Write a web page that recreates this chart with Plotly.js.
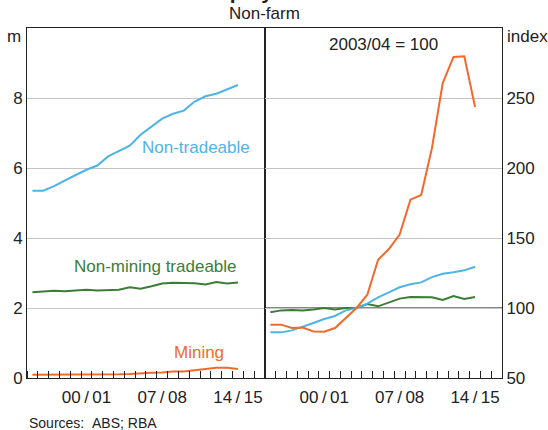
<!DOCTYPE html>
<html>
<head>
<meta charset="utf-8">
<script src="https://cdn.plot.ly/plotly-3.0.1.min.js"></script>
<style>
html,body{margin:0;padding:0;background:#fff;}
#chart{width:548px;height:430px;}
</style>
</head>
<body>
<div id="chart"></div>
<script>
// Financial years 1995/96 ... 2014/15 (x = mid-point of the financial year)
var years = [1996,1997,1998,1999,2000,2001,2002,2003,2004,2005,2006,2007,2008,2009,2010,2011,2012,2013,2014,2015];

// Left panel: employment, millions
var nonTradeable = [5.35,5.35,5.48,5.65,5.80,5.95,6.07,6.33,6.48,6.64,6.95,7.19,7.41,7.55,7.64,7.90,8.05,8.12,8.24,8.37];
var nonMiningTradeable = [2.45,2.48,2.49,2.48,2.50,2.52,2.50,2.52,2.52,2.59,2.55,2.62,2.70,2.72,2.72,2.71,2.67,2.74,2.70,2.73];
var mining = [0.09,0.09,0.09,0.09,0.087,0.086,0.089,0.097,0.104,0.114,0.14,0.148,0.159,0.185,0.188,0.223,0.271,0.290,0.291,0.254];

// Right panel: index, 2003/04 = 100
var nonTradeableIdx = [82.6,82.6,84.0,86.4,89.3,92.1,94.3,98.3,100,103.1,107.6,111.2,114.8,116.9,118.3,122.1,124.5,125.5,126.9,129.5];
var nonMiningTradeableIdx = [96.9,98.3,98.6,98.3,99.0,100,99.0,100,100,102.9,101.2,104.0,106.7,107.9,107.9,107.6,105.7,108.6,106.4,107.9];
var miningIdx = [88.1,88.1,85.7,86.0,83.3,83.1,85.7,92.9,100,109.5,134.5,142.1,152.4,177.4,180.7,214.3,260.7,279.3,279.8,243.6];

// Axis labels
var xTickVals = [2001, 2008, 2015];
var xTickText = ['00\u2009/\u200901', '07\u2009/\u200908', '14\u2009/\u200915'];
var yLeftTicks = [0, 2, 4, 6, 8];
var yRightTicks = [50, 100, 150, 200, 250];

var BLUE = '#4fb3e6', GREEN = '#3b7d34', ORANGE = '#f26a2b';
var FONT = 'Liberation Sans, Arial, sans-serif';
var TXT = '#222';

function line(x, y, color, xa, ya) {
  return {x: x, y: y, type: 'scatter', mode: 'lines', xaxis: xa, yaxis: ya,
          line: {color: color, width: 2}, hoverinfo: 'skip', showlegend: false};
}

var data = [
  line(years, nonTradeable, BLUE, 'x', 'y'),
  line(years, nonMiningTradeable, GREEN, 'x', 'y'),
  line(years, mining, ORANGE, 'x', 'y'),
  line(years, nonMiningTradeableIdx, GREEN, 'x2', 'y2'),
  line(years, nonTradeableIdx, BLUE, 'x2', 'y2'),
  line(years, miningIdx, ORANGE, 'x2', 'y2')
];

var split = 0.501;
function xax(dom, anchor) {
  return {domain: dom, anchor: anchor, range: [1995.5, 2017.5],
    tickmode: 'array', tickvals: xTickVals, ticktext: xTickText, ticks: '',
    tickfont: {family: FONT, size: 17, color: TXT},
    ticklabelstandoff: 4,
    minor: {tickmode: 'linear', tick0: 1996.5, dtick: 1, ticks: 'inside', ticklen: 7, tickwidth: 1, tickcolor: '#222'},
    showgrid: false, zeroline: false, showline: true, mirror: true, linecolor: '#222', linewidth: 1,
    fixedrange: true};
}

var layout = {
  width: 548, height: 430,
  margin: {l: 27, r: 46, t: 28, b: 52},
  paper_bgcolor: '#fff', plot_bgcolor: '#fff',
  font: {family: FONT, color: TXT, size: 17},
  showlegend: false,
  xaxis: xax([0, split], 'y'),
  xaxis2: xax([split, 1], 'y2'),
  yaxis: {domain: [0, 1], anchor: 'x', side: 'left', range: [0, 10], tickmode: 'array', tickvals: yLeftTicks,
    ticks: '', tickfont: {family: FONT, size: 17, color: TXT}, showgrid: true, gridcolor: '#c4c4c4', gridwidth: 1,
    zeroline: false, showline: true, mirror: true, linecolor: '#222', linewidth: 1, fixedrange: true},
  yaxis2: {domain: [0, 1], anchor: 'x2', side: 'right', range: [50, 300], tickmode: 'array', tickvals: yRightTicks,
    ticks: '', tickfont: {family: FONT, size: 17, color: TXT}, showgrid: true, gridcolor: '#c4c4c4', gridwidth: 1,
    zeroline: false, showline: true, mirror: true, linecolor: '#222', linewidth: 1, fixedrange: true},
  shapes: [
    {type: 'line', xref: 'x2 domain', yref: 'y2', x0: 0, x1: 1, y0: 100, y1: 100, line: {color: '#111', width: 1}, layer: 'below'}
  ],
  annotations: [
    {text: '<b>Employment</b>', xref: 'paper', yref: 'paper', x: 0.49, y: 1.105, xanchor: 'center', yanchor: 'middle',
     showarrow: false, font: {size: 21, color: TXT}},
    {text: 'Non-farm', xref: 'paper', yref: 'paper', x: 0.501, y: 1.04, xanchor: 'center', yanchor: 'middle',
     showarrow: false, font: {size: 17, color: TXT}},
    {text: 'm', xref: 'paper', yref: 'paper', x: -0.008, y: 0.975, xanchor: 'right', yanchor: 'middle',
     showarrow: false, font: {size: 17, color: TXT}},
    {text: 'index', xref: 'paper', yref: 'paper', x: 1.006, y: 0.975, xanchor: 'left', yanchor: 'middle',
     showarrow: false, font: {size: 17, color: TXT}},
    {text: '2003/04 = 100', xref: 'x2', yref: 'y2', x: 2006.5, y: 288, xanchor: 'center', yanchor: 'middle',
     showarrow: false, font: {size: 17, color: TXT}},
    {text: 'Non-tradeable', xref: 'x', yref: 'y', x: 2011.1, y: 6.6, xanchor: 'center', yanchor: 'middle',
     showarrow: false, font: {size: 17, color: BLUE}},
    {text: 'Non-mining tradeable', xref: 'x', yref: 'y', x: 2007.4, y: 3.19, xanchor: 'center', yanchor: 'middle',
     showarrow: false, font: {size: 17, color: GREEN}},
    {text: 'Mining', xref: 'x', yref: 'y', x: 2011.4, y: 0.72, xanchor: 'center', yanchor: 'middle',
     showarrow: false, font: {size: 17, color: ORANGE}},
    {text: 'Sources:\u00a0\u00a0ABS; RBA', xref: 'paper', yref: 'paper', x: 0.0, y: -0.13, xanchor: 'left', yanchor: 'middle',
     showarrow: false, font: {size: 14, color: TXT}}
  ]
};

Plotly.newPlot('chart', data, layout, {staticPlot: true, displayModeBar: false});
</script>
</body>
</html>
